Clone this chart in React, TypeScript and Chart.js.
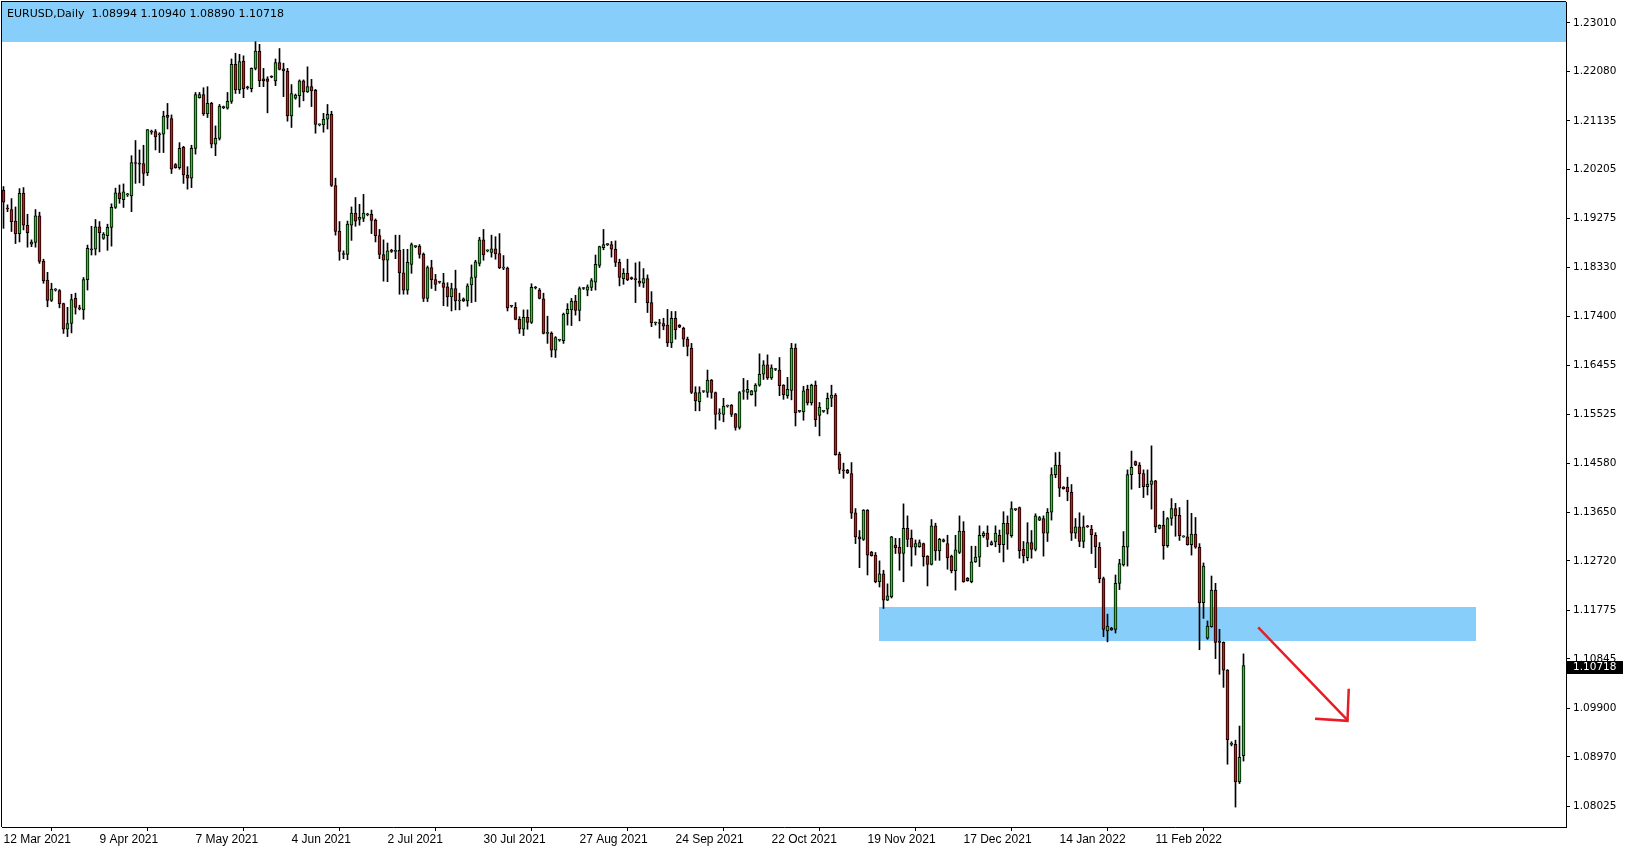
import React, { useEffect, useRef } from 'react';
import { Chart, registerables } from 'chart.js';

Chart.register(...registerables);

const symbolTitle = 'EURUSD,Daily';

// Daily bars (incl. Sunday bars) from 12 Mar 2021 to 9 Mar 2022
const opens = [
  1.1981,1.1946,1.1944,1.1922,1.1898,1.1975,1.1914,1.1878,1.1881,1.1932,1.1845,1.1809,
  1.1770,1.1790,1.1789,1.1764,1.1715,1.1726,1.1774,1.1755,1.1752,1.1810,1.1869,1.1868,
  1.1911,1.1889,1.1894,1.1910,1.1948,1.1976,1.1963,1.1972,1.1970,1.2034,1.2033,1.2032,
  1.2014,1.2094,1.2093,1.2087,1.2088,1.2124,1.2118,1.2030,1.2024,1.2063,1.2010,1.2004,
  1.2061,1.2158,1.2164,1.2127,1.2147,1.2069,1.2080,1.2140,1.2138,1.2151,1.2222,1.2173,
  1.2228,1.2178,1.2175,1.2214,1.2247,1.2194,1.2194,1.2198,1.2190,1.2225,1.2213,1.2209,
  1.2123,1.2157,1.2162,1.2190,1.2169,1.2179,1.2172,1.2106,1.2106,1.2117,1.2126,1.1990,
  1.1903,1.1860,1.1858,1.1914,1.1937,1.1925,1.1927,1.1934,1.1935,1.1924,1.1894,1.1858,
  1.1847,1.1866,1.1864,1.1866,1.1823,1.1790,1.1839,1.1873,1.1874,1.1859,1.1774,1.1833,
  1.1810,1.1805,1.1804,1.1796,1.1777,1.1793,1.1769,1.1773,1.1769,1.1800,1.1814,1.1841,
  1.1886,1.1865,1.1862,1.1869,1.1860,1.1832,1.1832,1.1759,1.1757,1.1734,1.1715,1.1738,
  1.1728,1.1795,1.1790,1.1773,1.1707,1.1707,1.1675,1.1694,1.1693,1.1745,1.1752,1.1769,
  1.1751,1.1793,1.1790,1.1795,1.1805,1.1837,1.1871,1.1877,1.1877,1.1868,1.1843,1.1812,
  1.1822,1.1814,1.1812,1.1807,1.1803,1.1812,1.1766,1.1727,1.1727,1.1726,1.1723,1.1689,
  1.1736,1.1723,1.1717,1.1696,1.1679,1.1594,1.1576,1.1596,1.1594,1.1618,1.1594,1.1553,
  1.1552,1.1568,1.1570,1.1553,1.1527,1.1596,1.1594,1.1590,1.1596,1.1608,1.1629,1.1647,
  1.1622,1.1638,1.1637,1.1608,1.1588,1.1598,1.1679,1.1558,1.1557,1.1600,1.1574,1.1608,
  1.1550,1.1558,1.1562,1.1583,1.1589,1.1476,1.1445,1.1445,1.1439,1.1364,1.1318,1.1313,
  1.1369,1.1289,1.1283,1.1232,1.1247,1.1197,1.1203,1.1302,1.1298,1.1286,1.1334,1.1315,
  1.1298,1.1299,1.1305,1.1281,1.1265,1.1339,1.1291,1.1312,1.1305,1.1281,1.1253,1.1288,
  1.1329,1.1239,1.1232,1.1270,1.1279,1.1320,1.1325,1.1303,1.1308,1.1321,1.1303,1.1344,
  1.1320,1.1370,1.1374,1.1294,1.1278,1.1307,1.1294,1.1350,1.1353,1.1325,1.1365,1.1437,
  1.1455,1.1413,1.1413,1.1403,1.1325,1.1337,1.1309,1.1339,1.1333,1.1321,1.1298,1.1238,
  1.1138,1.1143,1.1141,1.1229,1.1264,1.1298,1.1437,1.1462,1.1455,1.1439,1.1414,1.1418,
  1.1425,1.1334,1.1340,1.1301,1.1353,1.1372,1.1359,1.1318,1.1318,1.1303,1.1323,1.1298,
  1.1192,1.1124,1.1146,1.1216,1.1118,1.1116,1.1063,1.0921,1.0921,1.0849,1.08994,
];

const highs = [
  1.1988,1.1953,1.1965,1.1949,1.1984,1.1986,1.1935,1.1886,1.1944,1.1939,1.1849,1.1824,
  1.1803,1.1793,1.1791,1.1765,1.1757,1.1782,1.1784,1.1761,1.1814,1.1876,1.1912,1.1925,
  1.1921,1.1900,1.1916,1.1955,1.1985,1.1991,1.1993,1.1975,1.2047,1.2076,1.2058,1.2067,
  1.2097,1.2096,1.2097,1.2091,1.2132,1.2147,1.2125,1.2032,1.2072,1.2065,1.2026,1.2067,
  1.2168,1.2168,1.2177,1.2179,1.2149,1.2104,1.2145,1.2142,1.2168,1.2232,1.2243,1.2241,
  1.2238,1.2180,1.2215,1.2265,1.2260,1.2214,1.2198,1.2200,1.2232,1.2252,1.2224,1.2214,
  1.2183,1.2165,1.2192,1.2192,1.2217,1.2193,1.2174,1.2108,1.2128,1.2145,1.2132,1.2004,
  1.1921,1.1865,1.1922,1.1949,1.1967,1.1954,1.1973,1.1937,1.1943,1.1926,1.1906,1.1886,
  1.1880,1.1868,1.1895,1.1895,1.1868,1.1868,1.1880,1.1875,1.1877,1.1861,1.1836,1.1847,
  1.1820,1.1807,1.1822,1.1804,1.1803,1.1828,1.1784,1.1775,1.1802,1.1838,1.1847,1.1891,
  1.1906,1.1867,1.1895,1.1892,1.1898,1.1856,1.1834,1.1761,1.1766,1.1739,1.1752,1.1752,
  1.1802,1.1797,1.1793,1.1784,1.1740,1.1710,1.1701,1.1696,1.1746,1.1764,1.1774,1.1780,
  1.1796,1.1795,1.1800,1.1812,1.1857,1.1874,1.1906,1.1879,1.1883,1.1884,1.1849,1.1831,
  1.1849,1.1815,1.1842,1.1844,1.1831,1.1819,1.1787,1.1729,1.1734,1.1736,1.1753,1.1749,
  1.1749,1.1724,1.1719,1.1700,1.1688,1.1605,1.1605,1.1597,1.1637,1.1619,1.1595,1.1563,
  1.1583,1.1570,1.1571,1.1554,1.1596,1.1621,1.1617,1.1598,1.1611,1.1668,1.1655,1.1666,
  1.1647,1.1640,1.1661,1.1609,1.1623,1.1688,1.1687,1.1560,1.1606,1.1608,1.1610,1.1616,
  1.1575,1.1560,1.1593,1.1608,1.1592,1.1480,1.1459,1.1447,1.1460,1.1372,1.1330,1.1370,
  1.1370,1.1290,1.1288,1.1272,1.1254,1.1228,1.1319,1.1315,1.1315,1.1381,1.1358,1.1331,
  1.1312,1.1312,1.1306,1.1282,1.1351,1.1344,1.1315,1.1314,1.1321,1.1283,1.1321,1.1358,
  1.1347,1.1240,1.1300,1.1300,1.1339,1.1328,1.1339,1.1310,1.1339,1.1331,1.1366,1.1358,
  1.1385,1.1372,1.1375,1.1309,1.1345,1.1330,1.1362,1.1357,1.1358,1.1372,1.1450,1.1479,
  1.1480,1.1414,1.1432,1.1418,1.1353,1.1364,1.1358,1.1340,1.1340,1.1326,1.1307,1.1241,
  1.1170,1.1145,1.1245,1.1275,1.1328,1.1446,1.1482,1.1463,1.1460,1.1446,1.1446,1.1492,
  1.1426,1.1341,1.1367,1.1355,1.1391,1.1382,1.1374,1.1320,1.1388,1.1363,1.1355,1.1305,
  1.1268,1.1157,1.1243,1.1229,1.1141,1.1117,1.1064,1.0926,1.0929,1.0956,1.10940,
];

const lows = [
  1.1908,1.1940,1.1902,1.1879,1.1882,1.1905,1.1872,1.1873,1.1872,1.1841,1.1803,1.1758,
  1.1768,1.1788,1.1756,1.1707,1.1701,1.1708,1.1744,1.1752,1.1734,1.1790,1.1857,1.1857,
  1.1863,1.1887,1.1866,1.1874,1.1946,1.1956,1.1948,1.1969,1.1940,1.1994,1.1995,1.1990,
  1.2009,1.2088,1.2058,1.2053,1.2053,1.2098,1.2013,1.2023,1.2021,1.1994,1.1983,1.1986,
  1.2050,1.2157,1.2124,1.2120,1.2062,1.2047,1.2077,1.2137,1.2136,1.2147,1.2166,1.2166,
  1.2158,1.2174,1.2169,1.2211,1.2179,1.2179,1.2129,1.2196,1.2181,1.2211,1.2160,1.2113,
  1.2101,1.2155,1.2140,1.2152,1.2168,1.2141,1.2090,1.2104,1.2092,1.2098,1.1988,1.1895,
  1.1847,1.1850,1.1848,1.1885,1.1912,1.1914,1.1921,1.1932,1.1898,1.1882,1.1850,1.1807,
  1.1806,1.1862,1.1850,1.1782,1.1782,1.1782,1.1822,1.1871,1.1851,1.1768,1.1768,1.1793,
  1.1789,1.1803,1.1760,1.1759,1.1750,1.1752,1.1752,1.1768,1.1759,1.1766,1.1768,1.1836,
  1.1847,1.1863,1.1853,1.1849,1.1831,1.1829,1.1750,1.1757,1.1733,1.1707,1.1703,1.1715,
  1.1726,1.1792,1.1773,1.1706,1.1688,1.1662,1.1661,1.1692,1.1688,1.1723,1.1722,1.1742,
  1.1731,1.1791,1.1779,1.1789,1.1790,1.1833,1.1867,1.1875,1.1853,1.1835,1.1798,1.1801,
  1.1808,1.1810,1.1766,1.1797,1.1795,1.1747,1.1720,1.1723,1.1698,1.1714,1.1682,1.1680,
  1.1696,1.1718,1.1682,1.1664,1.1592,1.1559,1.1559,1.1594,1.1585,1.1583,1.1524,1.1541,
  1.1538,1.1566,1.1548,1.1522,1.1524,1.1581,1.1581,1.1589,1.1568,1.1606,1.1619,1.1619,
  1.1619,1.1636,1.1588,1.1581,1.1583,1.1580,1.1530,1.1556,1.1541,1.1570,1.1570,1.1529,
  1.1511,1.1556,1.1553,1.1567,1.1474,1.1439,1.1430,1.1439,1.1353,1.1305,1.1259,1.1311,
  1.1245,1.1281,1.1230,1.1222,1.1181,1.1196,1.1201,1.1286,1.1254,1.1232,1.1299,1.1262,
  1.1283,1.1298,1.1262,1.1224,1.1264,1.1273,1.1273,1.1308,1.1256,1.1249,1.1216,1.1286,
  1.1231,1.1233,1.1230,1.1269,1.1261,1.1317,1.1299,1.1302,1.1299,1.1288,1.1270,1.1294,
  1.1317,1.1368,1.1277,1.1268,1.1272,1.1277,1.1291,1.1349,1.1281,1.1309,1.1350,1.1431,
  1.1395,1.1409,1.1387,1.1311,1.1315,1.1299,1.1297,1.1336,1.1286,1.1259,1.1230,1.1127,
  1.1117,1.1139,1.1134,1.1217,1.1262,1.1262,1.1409,1.1454,1.1412,1.1393,1.1398,1.1371,
  1.1326,1.1333,1.1275,1.1298,1.1340,1.1319,1.1311,1.1317,1.1302,1.1283,1.1296,1.1102,
  1.1162,1.1122,1.1145,1.1085,1.1055,1.1030,1.0883,1.0918,1.0801,1.0846,1.08890,
];

const closes = [
  1.1958,1.1945,1.1921,1.1898,1.1975,1.1914,1.1900,1.1882,1.1932,1.1845,1.1808,1.1770,
  1.1792,1.1790,1.1764,1.1715,1.1726,1.1772,1.1757,1.1754,1.1810,1.1870,1.1867,1.1911,
  1.1900,1.1897,1.1910,1.1948,1.1976,1.1965,1.1978,1.1972,1.2034,1.2032,1.2031,1.2013,
  1.2097,1.2092,1.2083,1.2089,1.2123,1.2120,1.2021,1.2024,1.2061,1.2010,1.2004,1.2061,
  1.2164,1.2164,1.2127,1.2147,1.2069,1.2080,1.2142,1.2139,1.2151,1.2222,1.2173,1.2227,
  1.2175,1.2177,1.2214,1.2247,1.2190,1.2190,1.2189,1.2197,1.2225,1.2212,1.2209,1.2123,
  1.2166,1.2163,1.2190,1.2169,1.2179,1.2171,1.2107,1.2106,1.2117,1.2126,1.1990,1.1902,
  1.1864,1.1858,1.1916,1.1937,1.1922,1.1929,1.1937,1.1935,1.1923,1.1894,1.1858,1.1847,
  1.1865,1.1864,1.1866,1.1823,1.1790,1.1843,1.1877,1.1873,1.1858,1.1774,1.1833,1.1810,
  1.1801,1.1805,1.1795,1.1777,1.1793,1.1769,1.1769,1.1769,1.1798,1.1814,1.1844,1.1886,
  1.1857,1.1865,1.1869,1.1859,1.1833,1.1832,1.1756,1.1759,1.1734,1.1715,1.1738,1.1728,
  1.1795,1.1794,1.1774,1.1707,1.1707,1.1675,1.1699,1.1694,1.1744,1.1753,1.1769,1.1751,
  1.1793,1.1793,1.1796,1.1808,1.1839,1.1873,1.1877,1.1877,1.1868,1.1843,1.1814,1.1822,
  1.1810,1.1812,1.1810,1.1803,1.1812,1.1766,1.1727,1.1727,1.1726,1.1721,1.1689,1.1736,
  1.1714,1.1719,1.1696,1.1682,1.1594,1.1578,1.1594,1.1596,1.1618,1.1594,1.1552,1.1553,
  1.1568,1.1568,1.1552,1.1527,1.1594,1.1596,1.1600,1.1597,1.1608,1.1629,1.1647,1.1622,
  1.1641,1.1638,1.1607,1.1590,1.1600,1.1679,1.1555,1.1558,1.1597,1.1574,1.1608,1.1542,
  1.1566,1.1558,1.1583,1.1589,1.1475,1.1447,1.1444,1.1440,1.1363,1.1318,1.1314,1.1369,
  1.1283,1.1282,1.1232,1.1247,1.1197,1.1205,1.1318,1.1297,1.1286,1.1334,1.1313,1.1298,
  1.1305,1.1307,1.1280,1.1265,1.1339,1.1291,1.1313,1.1309,1.1278,1.1253,1.1293,1.1329,
  1.1232,1.1234,1.1270,1.1279,1.1321,1.1325,1.1313,1.1307,1.1325,1.1303,1.1344,1.1323,
  1.1372,1.1370,1.1291,1.1282,1.1307,1.1294,1.1358,1.1355,1.1325,1.1365,1.1437,1.1455,
  1.1411,1.1410,1.1404,1.1325,1.1337,1.1309,1.1337,1.1337,1.1322,1.1299,1.1238,1.1141,
  1.1147,1.1140,1.1229,1.1267,1.1300,1.1437,1.1451,1.1455,1.1439,1.1414,1.1419,1.1425,
  1.1337,1.1340,1.1301,1.1353,1.1372,1.1358,1.1320,1.1318,1.1303,1.1323,1.1298,1.1192,
  1.1262,1.1147,1.1216,1.1116,1.1116,1.1063,1.0930,1.0921,1.0849,1.0896,1.10718,
];

// Time axis labels (bar index -> label)
const xTickIdx = [0, 24, 48, 72, 96, 120, 144, 168, 192, 216, 240, 264, 288];
const xTickLabels = [
  '12 Mar 2021', '9 Apr 2021', '7 May 2021', '4 Jun 2021', '2 Jul 2021', '30 Jul 2021',
  '27 Aug 2021', '24 Sep 2021', '22 Oct 2021', '19 Nov 2021', '17 Dec 2021', '14 Jan 2022', '11 Feb 2022',
];

// Price axis labels
const yTickValues = [
  1.2301, 1.2208, 1.21135, 1.20205, 1.19275, 1.1833, 1.174, 1.16455, 1.15525,
  1.1458, 1.1365, 1.1272, 1.11775, 1.10845, 1.099, 1.0897, 1.08025,
];

// Visible range of the chart window
const xRange = [-0.375, 390.625];
const yRange = [1.07629, 1.2341];

// Drawn objects (in bar index / price units)
const resistanceZone = { fromBar: -0.375, toBar: 390.625, low: 1.22639, high: 1.2341 };
const supportZone = { fromBar: 218.9, toBar: 368.0, low: 1.11193, high: 1.11843 };
const arrowLine = [[313.9, 1.1143], [335.9, 1.0968]];
const arrowHead = [[328.2, 1.0970], [336.0, 1.0966], [336.3, 1.1025]];

const BULL = '#22CC22';
const BEAR = '#D41616';
const ZONE = '#87CEFA';

const overlayPlugin = {
  id: 'mtOverlay',
  beforeDatasetsDraw(chart: any) {
    const { ctx, chartArea, scales } = chart;
    const x = scales.x, y = scales.y;
    ctx.save();
    ctx.beginPath();
    ctx.rect(chartArea.left, chartArea.top, chartArea.right - chartArea.left, chartArea.bottom - chartArea.top);
    ctx.clip();
    ctx.fillStyle = ZONE;
    for (const z of [resistanceZone, supportZone]) {
      const x1 = Math.round(x.getPixelForValue(z.fromBar));
      const x2 = Math.round(x.getPixelForValue(z.toBar));
      const y1 = Math.round(y.getPixelForValue(z.high));
      const y2 = Math.round(y.getPixelForValue(z.low));
      ctx.fillRect(x1, y1, x2 - x1, y2 - y1);
    }
    ctx.restore();
  },
  afterDatasetsDraw(chart: any) {
    const { ctx, scales } = chart;
    const x = scales.x, y = scales.y;
    ctx.save();
    ctx.strokeStyle = '#E81C24';
    ctx.lineWidth = 2.5;
    ctx.lineCap = 'square';
    ctx.lineJoin = 'miter';
    for (const path of [arrowLine, arrowHead]) {
      ctx.beginPath();
      path.forEach((p, k) => {
        const px = x.getPixelForValue(p[0]);
        const py = y.getPixelForValue(p[1]);
        if (k === 0) ctx.moveTo(px, py); else ctx.lineTo(px, py);
      });
      ctx.stroke();
    }
    ctx.restore();
  },
  afterDraw(chart: any) {
    const { ctx, chartArea, scales } = chart;
    const y = scales.y;
    ctx.save();
    // window frame (left / top)
    ctx.fillStyle = '#000';
    ctx.fillRect(chartArea.left - 1, chartArea.top - 1, 1, chartArea.bottom - chartArea.top + 1);
    ctx.fillRect(chartArea.left - 1, chartArea.top - 1, chartArea.right - chartArea.left + 1, 1);
    // header
    const n = closes.length - 1;
    const header = `${symbolTitle}  ${opens[n].toFixed(5)} ${highs[n].toFixed(5)} ${lows[n].toFixed(5)} ${closes[n].toFixed(5)}`;
    ctx.font = '11px "DejaVu Sans", sans-serif';
    ctx.textBaseline = 'alphabetic';
    ctx.textAlign = 'left';
    ctx.fillStyle = '#000';
    ctx.fillText(header, 7, 17);
    // current price label
    const py = Math.round(y.getPixelForValue(closes[n])) + 1;
    ctx.fillStyle = '#000';
    ctx.fillRect(chartArea.right + 1, py - 6, 56, 13);
    ctx.fillStyle = '#fff';
    ctx.font = '10.5px "DejaVu Sans", sans-serif';
    ctx.textBaseline = 'middle';
    ctx.fillText(closes[n].toFixed(5), chartArea.right + 7, py + 0.5);
    ctx.restore();
  },
};

export default function App() {
  const ref = useRef<HTMLCanvasElement | null>(null);

  useEffect(() => {
    if (!ref.current) return;
    const bodies = opens.map((o, i) => ({ x: i, y: [o, closes[i]] }));
    const wicks = opens.map((_, i) => ({ x: i, y: [lows[i], highs[i]] }));
    const bodyColors = opens.map((o, i) => (closes[i] >= o ? BULL : BEAR));

    const chart = new Chart(ref.current, {
      type: 'bar',
      data: {
        datasets: [
          {
            label: 'body',
            data: bodies as any,
            backgroundColor: bodyColors,
            borderColor: '#000',
            borderWidth: 1,
            borderSkipped: false,
            barThickness: 3,
            minBarLength: 1,
            grouped: false,
            order: 0,
          } as any,
          {
            label: 'wick',
            data: wicks as any,
            backgroundColor: '#000',
            borderWidth: 0,
            barThickness: 1,
            minBarLength: 1,
            grouped: false,
            order: 1,
          } as any,
        ],
      },
      options: {
        animation: false,
        responsive: false,
        devicePixelRatio: 1,
        events: [],
        layout: { padding: { left: 2, top: 2, right: 0, bottom: 0 } },
        plugins: {
          legend: { display: false },
          tooltip: { enabled: false },
          title: { display: false },
        },
        scales: {
          x: {
            type: 'linear',
            min: xRange[0],
            max: xRange[1],
            offset: false,
            grid: { display: true, drawOnChartArea: false, drawTicks: true, tickLength: 4, color: '#000' },
            border: { display: true, color: '#000', width: 1 },
            ticks: {
              autoSkip: false,
              maxRotation: 0,
              minRotation: 0,
              align: 'start',
              padding: 1,
              color: '#000',
              font: { family: '"Liberation Sans", Arial, sans-serif', size: 12 },
              callback: (v: any) => {
                const k = xTickIdx.indexOf(Number(v));
                return k >= 0 ? xTickLabels[k] : '';
              },
            },
            afterBuildTicks: (scale: any) => {
              scale.ticks = xTickIdx.map((v) => ({ value: v }));
            },
            afterFit: (scale: any) => {
              scale.height = 23;
              scale.paddingLeft = 0;
              scale.paddingRight = 0;
            },
          },
          y: {
            type: 'linear',
            position: 'right',
            min: yRange[0],
            max: yRange[1],
            grid: { display: true, drawOnChartArea: false, drawTicks: true, tickLength: 4, color: '#000' },
            border: { display: true, color: '#000', width: 1 },
            ticks: {
              padding: 3,
              color: '#000',
              font: { family: '"DejaVu Sans", sans-serif', size: 10.5 },
              callback: (v: any) => Number(v).toFixed(5),
            },
            afterBuildTicks: (scale: any) => {
              scale.ticks = yTickValues.map((v) => ({ value: v }));
            },
            afterFit: (scale: any) => {
              scale.width = 63;
              scale.paddingTop = 0;
              scale.paddingBottom = 0;
            },
          },
        },
      } as any,
      plugins: [overlayPlugin],
    });
    return () => chart.destroy();
  }, []);

  return (
    <div style={{ position: 'fixed', left: 0, top: 0, width: 1629, height: 850, background: '#fff' }}>
      <canvas ref={ref} width={1629} height={850} style={{ display: 'block', width: 1629, height: 850 }} />
    </div>
  );
}
